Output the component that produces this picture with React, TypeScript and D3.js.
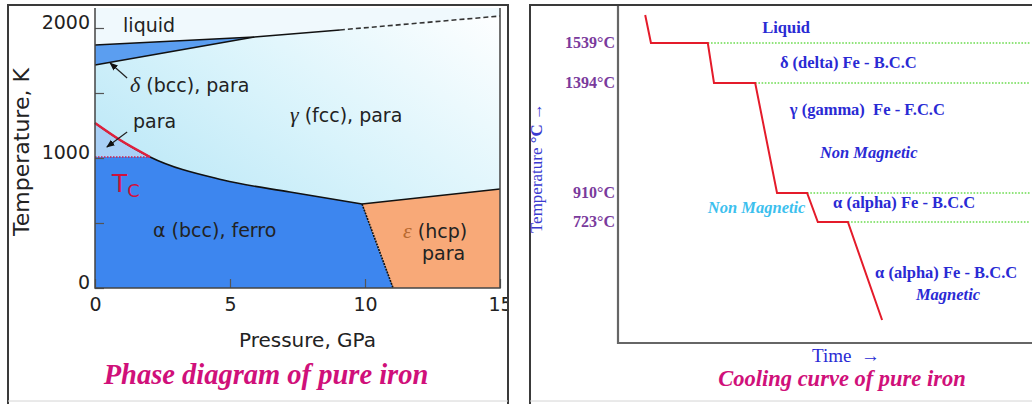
import * as d3 from "d3"
import { useEffect, useRef } from "react"

type Pt = [number, number]

// ---- left: phase diagram of pure iron (pressure GPa, temperature K) ----
const pressureTicks = [0, 5, 10, 15]
const tempTicks = [0, 500, 1000, 1500, 2000]
const tempLabels = [0, 1000, 2000]

const liquidusSolid: Pt[] = [[0, 1869], [5.9, 1931], [9.07, 1985]]
const liquidusDashed: Pt[] = [[9.07, 1985], [15, 2092]]
const deltaGamma: Pt[] = [[0, 1715], [5.9, 1931]]
const curieCurve: Pt[] = [[0, 1269], [0.93, 1138], [2.04, 1008]]
const alphaGamma: Pt[] = [[2.04, 1008], [4.74, 831], [7.22, 738], [9.89, 646]]
const gammaEps: Pt[] = [[9.89, 646], [15, 762]]
const alphaEps: Pt[] = [[9.89, 646], [11.04, 0]]
const curieTemp = 1008

const phaseLabels: { text: string; p: number; t: number }[] = [
  { text: "liquid", p: 1.04, t: 1969 },
  { text: "para", p: 1.41, t: 1231 },
  { text: "α (bcc), ferro", p: 2.15, t: 392 },
]

// ---- right: cooling curve of pure iron (time, °C) ----
const coolTime = [6.6, 8.0, 21.8, 23.3, 33.3, 38.6, 45.9, 48.5, 55.8, 64.1]
const coolTemp = [1640, 1539, 1539, 1394, 1394, 910, 910, 723, 723, 25]
const arrestTemps = [1539, 1394, 910, 723]
const arrestLabels = ["1539°C", "1394°C", "910°C", "723°C"]

const coolLabels: { text: string; t: number; T: number; italic?: boolean; color?: string }[] = [
  { text: "Liquid", t: 35.0, T: 1575 },
  { text: "δ (delta) Fe - B.C.C", t: 39.3, T: 1448 },
  { text: "γ (gamma)  Fe - F.C.C", t: 41.7, T: 1253 },
  { text: "Non Magnetic", t: 49.0, T: 1064, italic: true },
  { text: "α (alpha) Fe - B.C.C", t: 52.2, T: 813 },
  { text: "Non Magnetic", t: 21.8, T: 781, italic: true, color: "#3cc0ee" },
  { text: "α (alpha) Fe - B.C.C", t: 62.4, T: 324 },
  { text: "Magnetic", t: 72.3, T: 167, italic: true },
]

const App = () => {
  const svgRef = useRef<SVGSVGElement | null>(null)

  useEffect(() => {
    if (!svgRef.current) return
    document.body.style.margin = "0"
    const svg = d3.select(svgRef.current)
    svg.selectAll("*").remove()

    const sans = "'DejaVu Sans', sans-serif"
    const serif = "'Liberation Serif', 'Times New Roman', serif"
    const titleColor = "#d0107a"

    const defs = svg.append("defs")
    const grad = defs
      .append("linearGradient")
      .attr("id", "gammaGrad")
      .attr("x1", "0%")
      .attr("y1", "100%")
      .attr("x2", "100%")
      .attr("y2", "0%")
    grad.append("stop").attr("offset", "0%").attr("stop-color", "#a8e0f4")
    grad.append("stop").attr("offset", "55%").attr("stop-color", "#d8f3fb")
    grad.append("stop").attr("offset", "100%").attr("stop-color", "#ffffff")
    defs
      .append("clipPath")
      .attr("id", "leftClip")
      .append("rect")
      .attr("x", 8)
      .attr("y", 5)
      .attr("width", 500)
      .attr("height", 399)
    const arrow = defs
      .append("marker")
      .attr("id", "arrowHead")
      .attr("viewBox", "0 0 10 10")
      .attr("refX", 9)
      .attr("refY", 5)
      .attr("markerWidth", 7)
      .attr("markerHeight", 7)
      .attr("orient", "auto")
    arrow.append("path").attr("d", "M0,1L10,5L0,9Z").attr("fill", "#111")

    svg.append("rect").attr("width", 1032).attr("height", 404).attr("fill", "#fff")

    // ================= LEFT PANEL =================
    const left = svg.append("g").attr("clip-path", "url(#leftClip)")
    const x = d3.scaleLinear().domain([0, 15]).range([95, 500])
    const y = d3.scaleLinear().domain([0, 2000]).range([288, 28])
    const tTop = y.invert(8)
    const toXY = (d: Pt): [number, number] => [x(d[0]), y(d[1])]

    const straight = d3.line<Pt>().x((d) => x(d[0])).y((d) => y(d[1]))
    const smooth = d3
      .line<Pt>()
      .x((d) => x(d[0]))
      .y((d) => y(d[1]))
      .curve(d3.curveMonotoneX)

    // gamma background
    left
      .append("rect")
      .attr("x", x(0))
      .attr("y", y(tTop))
      .attr("width", x(15) - x(0))
      .attr("height", y(0) - y(tTop))
      .attr("fill", "url(#gammaGrad)")

    // liquid
    const liquidAll = [...liquidusSolid, ...liquidusDashed.slice(1)]
    const liquidPoly: Pt[] = [[0, tTop], [15, tTop], ...liquidAll.slice().reverse()]
    left
      .append("path")
      .attr("d", straight(liquidPoly) + "Z")
      .attr("fill", "#f0f9fd")

    // delta
    left
      .append("path")
      .attr("d", straight([liquidusSolid[0], liquidusSolid[1], deltaGamma[0]]) + "Z")
      .attr("fill", "#5b9ef0")

    // alpha (ferro)
    const boundary = [...curieCurve, ...alphaGamma.slice(1)]
    left
      .append("path")
      .attr("d", smooth(boundary) + "L" + toXY(alphaEps[1]).join(",") + "L" + toXY([0, 0]).join(",") + "Z")
      .attr("fill", "#3d86ef")

    // alpha para region (between Curie curve and Tc)
    left
      .append("path")
      .attr("d", smooth(curieCurve) + "L" + toXY([0, curieTemp]).join(",") + "Z")
      .attr("fill", "#a9d0f6")

    // epsilon
    left
      .append("path")
      .attr("d", straight([...gammaEps, [15, 0], alphaEps[1]]) + "Z")
      .attr("fill", "#f8a978")

    // boundaries
    const lineStyle = (sel: d3.Selection<SVGPathElement, unknown, null, undefined>) =>
      sel.attr("fill", "none").attr("stroke", "#111").attr("stroke-width", 1.6)
    left.append("path").attr("d", straight(liquidusSolid)).call(lineStyle)
    left.append("path").attr("d", straight(liquidusDashed)).call(lineStyle).attr("stroke", "#333").attr("stroke-dasharray", "5,3")
    left.append("path").attr("d", straight(deltaGamma)).call(lineStyle)
    left.append("path").attr("d", smooth(boundary)).call(lineStyle)
    left.append("path").attr("d", straight(gammaEps)).call(lineStyle)
    left.append("path").attr("d", straight(alphaEps)).call(lineStyle).attr("stroke-dasharray", "2,1")
    left
      .append("path")
      .attr("d", smooth(curieCurve))
      .attr("fill", "none")
      .attr("stroke", "#e0203c")
      .attr("stroke-width", 2.4)
    left
      .append("line")
      .attr("x1", x(0))
      .attr("x2", x(curieCurve[curieCurve.length - 1][0]))
      .attr("y1", y(curieTemp))
      .attr("y2", y(curieTemp))
      .attr("stroke", "#d02050")
      .attr("stroke-width", 1.5)
      .attr("stroke-dasharray", "1.5,1.5")

    // axes
    const yAxis = d3
      .axisLeft(y)
      .tickValues(tempTicks)
      .tickSizeInner(-9)
      .tickSizeOuter(0)
      .tickPadding(5)
      .tickFormat((d) => (tempLabels.includes(d as number) ? String(d) : ""))
    const gy = left.append("g").attr("transform", `translate(${x(0)},0)`).call(yAxis)
    const xAxis = d3.axisBottom(x).tickValues(pressureTicks).tickSizeInner(-9).tickSizeOuter(0).tickPadding(10)
    const gx = left.append("g").attr("transform", `translate(0,${y(0)})`).call(xAxis)
    for (const g of [gx, gy]) {
      g.select(".domain").remove()
      g.selectAll(".tick line").attr("stroke", "#555").attr("stroke-width", 1.2)
      g.selectAll(".tick text").attr("fill", "#222").style("font", `19px ${sans}`)
    }
    gy.selectAll(".tick text").attr("dy", "0.05em")

    // plot frame
    left
      .append("path")
      .attr("d", `M${x(0)},${y(tTop)}V${y(0)}H${x(15)}V${y(tTop)}`)
      .attr("fill", "none")
      .attr("stroke", "#444")
      .attr("stroke-width", 1.5)

    // labels
    left
      .selectAll(".plabel")
      .data(phaseLabels)
      .enter()
      .append("text")
      .attr("x", (d) => x(d.p))
      .attr("y", (d) => y(d.t))
      .attr("fill", "#222")
      .style("font", `19px ${sans}`)
      .text((d) => d.text)

    const greek = (txt: string, rest: string, p: number, t: number, gColor = "#222") => {
      const tx = left
        .append("text")
        .attr("x", x(p))
        .attr("y", y(t))
        .attr("fill", "#222")
        .style("font", `19px ${sans}`)
      tx.append("tspan").attr("fill", gColor).style("font-family", serif).style("font-style", "italic").style("font-size", "22px").text(txt)
      tx.append("tspan").text(rest)
    }
    greek("δ", " (bcc), para", 1.3, 1508)
    greek("γ", " (fcc), para", 7.22, 1277)
    greek("ε", " (hcp)", 11.41, 385, "#b86a30")
    left.append("text").attr("x", x(12.11)).attr("y", y(215)).attr("fill", "#222").style("font", `19px ${sans}`).text("para")

    const tc = left
      .append("text")
      .attr("x", x(0.63))
      .attr("y", y(738))
      .attr("fill", "#d0103c")
      .style("font", `25px ${sans}`)
    tc.append("tspan").text("T")
    tc.append("tspan").attr("dy", 5).style("font-size", "18px").text("C")

    // annotation arrows
    const arrows: [Pt, Pt][] = [
      [[1.19, 1615], [0.56, 1731]],
      [[1.19, 1200], [0.44, 1085]],
    ]
    left
      .selectAll(".arr")
      .data(arrows)
      .enter()
      .append("line")
      .attr("x1", (d) => x(d[0][0]))
      .attr("y1", (d) => y(d[0][1]))
      .attr("x2", (d) => x(d[1][0]))
      .attr("y2", (d) => y(d[1][1]))
      .attr("stroke", "#222")
      .attr("stroke-width", 1.2)
      .attr("marker-end", "url(#arrowHead)")

    left
      .append("text")
      .attr("x", (x(0) + x(15)) / 2 + 10)
      .attr("y", 347)
      .attr("text-anchor", "middle")
      .attr("fill", "#222")
      .style("font", `20px ${sans}`)
      .text("Pressure, GPa")
    left
      .append("text")
      .attr("transform", `translate(29,${(y(0) + y(tTop)) / 2 + 4}) rotate(-90)`)
      .attr("text-anchor", "middle")
      .attr("fill", "#222")
      .style("font", `22px ${sans}`)
      .text("Temperature, K")
    left
      .append("text")
      .attr("x", 266)
      .attr("y", 384)
      .attr("text-anchor", "middle")
      .attr("fill", titleColor)
      .style("font", `italic bold 28.5px ${serif}`)
      .text("Phase diagram of pure iron")

    // left panel frame
    svg.append("path").attr("d", "M8,404V5H508V404").attr("fill", "none").attr("stroke", "#3a3a3a").attr("stroke-width", 2)
    svg.append("line").attr("x1", 8).attr("x2", 508).attr("y1", 401).attr("y2", 401).attr("stroke", "#d4d4d4")

    // ================= RIGHT PANEL =================
    const right = svg.append("g")
    const xt = d3.scaleLinear().domain([0, 100]).range([618, 1030])
    // schematic (non-uniform) temperature axis
    const yt = d3
      .scaleLinear()
      .domain([25, 723, 910, 1394, 1539, 1640])
      .range([320, 222, 193, 83, 43, 15])

    right.append("path").attr("d", "M530,404V5H1032").attr("fill", "none").attr("stroke", "#3a3a3a").attr("stroke-width", 2)
    right.append("line").attr("x1", 530).attr("x2", 1032).attr("y1", 401).attr("y2", 401).attr("stroke", "#d4d4d4")
    right.append("path").attr("d", "M618,6V343H1032").attr("fill", "none").attr("stroke", "#666").attr("stroke-width", 2.2)

    // arrest lines
    const arrestStart = arrestTemps.map((T) => d3.max(coolTime.filter((_, i) => coolTemp[i] === T)) as number)
    right
      .selectAll(".arrest")
      .data(arrestTemps)
      .enter()
      .append("line")
      .attr("x1", (_, i) => xt(arrestStart[i]))
      .attr("x2", xt(100))
      .attr("y1", (d) => yt(d))
      .attr("y2", (d) => yt(d))
      .attr("stroke", "#6bdc4f")
      .attr("stroke-width", 1.6)
      .attr("stroke-dasharray", "1.6,1.6")

    const coolData = coolTime.map((t, i) => [t, coolTemp[i]] as Pt)
    right
      .append("path")
      .datum(coolData)
      .attr("d", d3.line<Pt>().x((d) => xt(d[0])).y((d) => yt(d[1])))
      .attr("fill", "none")
      .attr("stroke", "#e41b2a")
      .attr("stroke-width", 2)

    right
      .selectAll(".tlabel")
      .data(arrestTemps)
      .enter()
      .append("text")
      .attr("x", 615)
      .attr("y", (d) => yt(d) + 5)
      .attr("text-anchor", "end")
      .attr("fill", "#7a3a9c")
      .style("font", `bold 16px ${serif}`)
      .text((_, i) => arrestLabels[i])

    right
      .selectAll(".clabel")
      .data(coolLabels)
      .enter()
      .append("text")
      .attr("x", (d) => xt(d.t))
      .attr("y", (d) => yt(d.T))
      .attr("fill", (d) => d.color ?? "#2a2ad4")
      .style("font", (d) => `${d.italic ? "italic " : ""}bold 16.5px ${serif}`)
      .style("white-space", "pre")
      .text((d) => d.text)

    const yl = right
      .append("text")
      .attr("transform", "translate(542,168) rotate(-90)")
      .attr("text-anchor", "middle")
      .attr("fill", "#3a3ad0")
      .style("font", `17px ${serif}`)
    yl.append("tspan").text("Temperature ")
    yl.append("tspan").style("font-weight", "bold").text("°C")
    yl.append("tspan").text(" →")

    right
      .append("text")
      .attr("x", 846)
      .attr("y", 362)
      .attr("text-anchor", "middle")
      .attr("fill", "#2a2ad4")
      .style("font", `19px ${serif}`)
      .style("white-space", "pre")
      .text("Time  →")
    right
      .append("text")
      .attr("x", 842)
      .attr("y", 386)
      .attr("text-anchor", "middle")
      .attr("fill", titleColor)
      .style("font", `italic bold 22.5px ${serif}`)
      .text("Cooling curve of pure iron")
  }, [])

  return <svg ref={svgRef} width={1032} height={404} style={{ display: "block" }} />
}

export default App
